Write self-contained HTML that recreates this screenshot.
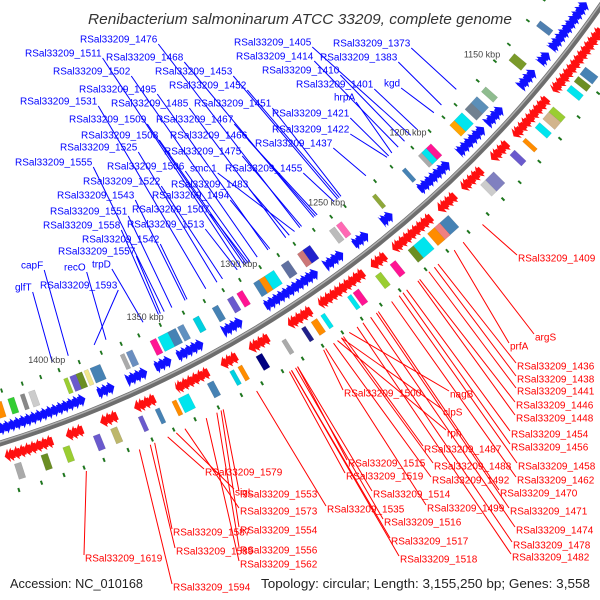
<!DOCTYPE html>
<html><head><meta charset="utf-8"><style>
html,body{margin:0;padding:0;background:#fff;}
svg{display:block;font-family:"Liberation Sans",sans-serif;}
</style></head><body>
<svg id="map" width="600" height="600" viewBox="0 0 600 600" xmlns="http://www.w3.org/2000/svg">
<rect width="600" height="600" fill="#fff"/>
<g id="labels-layer"></g>
<g id="ring-layer"></g>
<text x="88" y="24" font-size="15" font-style="italic" fill="#333" textLength="424" lengthAdjust="spacingAndGlyphs">Renibacterium salmoninarum ATCC 33209, complete genome</text>
<text x="10" y="588" font-size="13" fill="#222" textLength="133" lengthAdjust="spacingAndGlyphs">Accession: NC_010168</text>
<text x="261" y="588" font-size="13" fill="#222" textLength="329" lengthAdjust="spacingAndGlyphs">Topology: circular; Length: 3,155,250 bp; Genes: 3,558</text>
</svg>
<script>
// ---- data (kbp) ----
const tickKbp = [1150,1200,1250,1300,1350,1400];
const blueClusters = [[1102,1128],[1130,1136],[1140,1150],[1162,1172],[1174,1190],[1196,1214],[1230,1236],[1244,1252],[1258,1268],[1272,1300],[1312,1322],[1332,1345],[1348,1356],[1360,1370],[1376,1384],[1390,1432]];
const redClusters = [[1108,1142],[1146,1168],[1172,1182],[1188,1200],[1204,1214],[1218,1240],[1244,1252],[1256,1280],[1284,1296],[1306,1316],[1322,1330],[1336,1352],[1362,1372],[1380,1388],[1396,1404],[1410,1432]];
const outerBoxKbp = [1121,1140,1160,1166,1170,1176,1181,1196,1199,1202,1212,1230,1250,1254,1268,1272,1280,1288,1293,1296,1305,1310,1318,1328,1336,1340,1344,1350,1362,1366,1378,1384,1387,1390,1394,1410,1415,1420,1426];
const outerBoxLen = [3,4,3,4,4,5,3,4,3,2,2,2,3,3,4,3,4,5,3,3,3,3,3,3,3,4,5,3,3,2,5,2,3,3,2,3,2,3,3];
const outerBoxColor = ['#4f7fb0','#7a9a2a','#8fbc8f','#5b8fb9','#708090','#00e5ee','#ffa500','#ff1493','#00e5ee','#aaaaaa','#4682b4','#8fa83a','#ff69b4','#bbbbbb','#2020cc','#cc7777','#6070a0','#00e5ee','#ff8c00','#4682b4','#ff1493','#6a5acd','#4682b4','#00d0e0','#6090c0','#4682b4','#00e5ee','#ff1493','#6a8ec0','#aaaaaa','#4682b4','#f0e68c','#6b8e23','#6a5acd','#9acd32','#cccccc','#888888','#32cd32','#ff8c00'];
const innerBoxKbp = [1125,1130,1135,1147,1150,1156,1165,1172,1185,1190,1212,1217,1220,1226,1232,1242,1250,1262,1266,1280,1284,1290,1300,1312,1322,1326,1336,1348,1354,1362,1370,1382,1390,1404,1414,1426];
const innerBoxLen = [4,3,3,3,4,3,2,3,5,3,6,3,4,6,3,3,3,3,2,2,3,2,2,3,2,2,3,5,2,2,2,3,3,3,3,3];
const innerBoxColor = ['#4682b4','#6b8e23','#00e5ee','#9acd32','#d2b48c','#00e5ee','#ff8c00','#6a5acd','#8080c0','#cccccc','#4682b4','#f08080','#ff8c00','#00e5ee','#6b8e23','#ff1493','#9acd32','#ff1493','#00e5ee','#00e5ee','#ff8c00','#20208a','#aaaaaa','#000080','#ff8c00','#00d0e0','#4682b4','#00e5ee','#ff8c00','#4682b4','#6a5acd','#bdb76b','#6a5acd','#9acd32','#6b8e23','#aaaaaa'];
const outerDots = [1112,1124,1138,1148,1160,1175,1183,1192,1203,1216,1226,1244,1252,1262,1273,1282,1292,1303,1312,1322,1333,1345,1356,1365,1375,1386,1396,1405,1414,1424];
const innerDots = [1118,1130,1143,1155,1168,1180,1190,1199,1210,1222,1234,1248,1258,1268,1278,1288,1298,1308,1318,1328,1339,1350,1360,1370,1381,1392,1401,1410,1420,1430];
const blueNames = ['RSal33209_1476','RSal33209_1511','RSal33209_1468','RSal33209_1502','RSal33209_1453','RSal33209_1495','RSal33209_1452','RSal33209_1531','RSal33209_1485','RSal33209_1451','RSal33209_1509','RSal33209_1467','RSal33209_1508','RSal33209_1466','RSal33209_1525','RSal33209_1475','RSal33209_1555','RSal33209_1506','smc.1','RSal33209_1455','RSal33209_1522','RSal33209_1483','RSal33209_1543','RSal33209_1494','RSal33209_1551','RSal33209_1507','RSal33209_1558','RSal33209_1513','RSal33209_1542','RSal33209_1557','capF','recO','trpD','glfT','RSal33209_1593','RSal33209_1405','RSal33209_1373','RSal33209_1414','RSal33209_1383','RSal33209_1410','RSal33209_1401','kgd','hrpA','RSal33209_1421','RSal33209_1422','RSal33209_1437'];
const blueKbp = [1267,1300,1259,1291,1245,1285,1244,1319,1275,1243,1298,1258,1297,1257,1313,1266,1341,1295,1270,1247,1310,1273,1330,1284,1337,1296,1344,1302,1329,1343,1390,1371,1352,1398,1377,1200,1170,1208,1180,1204,1196,1185,1212,1214,1215,1228];
const blueX = [80,25,106,53,155,79,169,20,111,194,69,156,81,170,60,164,15,107,190,225,83,171,57,152,50,132,43,127,82,58,21,64,92,15,40,234,333,236,320,262,296,384,334,272,272,255];
const blueY = [39,53,57,71,71,89,85,101,103,103,119,119,135,135,147,151,162,166,168,168,181,184,195,195,211,209,225,224,239,251,265,267,264,287,285,42,43,56,57,70,84,83,97,113,129,143];
const redNames = ['RSal33209_1409','argS','prfA','RSal33209_1436','RSal33209_1438','RSal33209_1441','RSal33209_1446','RSal33209_1448','RSal33209_1454','RSal33209_1456','RSal33209_1458','RSal33209_1462','RSal33209_1470','RSal33209_1471','RSal33209_1474','RSal33209_1478','RSal33209_1482','RSal33209_1500','nagB','clpS','rph','RSal33209_1487','RSal33209_1515','RSal33209_1488','RSal33209_1519','RSal33209_1492','RSal33209_1514','RSal33209_1499','RSal33209_1553','RSal33209_1535','RSal33209_1516','RSal33209_1573','RSal33209_1554','RSal33209_1517','RSal33209_1556','RSal33209_1518','RSal33209_1562','RSal33209_1579','sigL','RSal33209_1587','RSal33209_1589','RSal33209_1619','RSal33209_1594'];
const redKbp = [1204,1215,1220,1229,1231,1234,1239,1240,1246,1248,1250,1254,1261,1262,1265,1269,1272,1289,1276,1280,1282,1279,1302,1280,1306,1284,1302,1288,1338,1322,1303,1356,1339,1305,1341,1305,1346,1364,1360,1370,1372,1401,1377];
const redX = [518,535,510,517,517,517,516,516,511,511,518,517,500,510,516,513,512,344,450,443,447,424,348,434,346,432,373,427,240,327,384,240,240,391,240,400,240,205,235,173,176,85,173];
const redY = [258,337,346,366,379,391,405,418,434,447,466,480,493,511,530,545,557,393,394,412,433,449,463,466,476,480,494,508,494,509,522,511,530,541,550,559,564,472,492,532,551,558,587];

// ---- geometry ----
const NS='http://www.w3.org/2000/svg';
const CX=-336, CY=-649, R=1143;
function ang(k){return (40.7+(k-1150)*360/3155.25)*Math.PI/180;}
function P(r,k){const a=ang(k);return [CX+r*Math.cos(a),CY+r*Math.sin(a)];}
function pts(arr){return arr.map(p=>p[0].toFixed(1)+','+p[1].toFixed(1)).join(' ');}
const ring=document.getElementById('ring-layer');
const lab=document.getElementById('labels-layer');
function mk(tag,parent){const e=document.createElementNS(NS,tag);parent.appendChild(e);return e;}

blueNames.forEach((n,i)=>{
  const t=mk('text',lab);
  
  
  t.setAttribute('x',blueX[i]);t.setAttribute('y',blueY[i]+3.5);
  t.setAttribute('font-size','10');t.setAttribute('fill','#0000ff');
  t.textContent=n;
  const w=t.getComputedTextLength();
  const e=P(R-60,blueKbp[i]);
  const l=mk('line',lab);
  
  
  l.setAttribute('x1',blueX[i]+w+1);l.setAttribute('y1',blueY[i]+5);
  l.setAttribute('x2',e[0]);l.setAttribute('y2',e[1]);
  l.setAttribute('stroke','#0000ff');l.setAttribute('stroke-width','1');
});
redNames.forEach((n,i)=>{
  const t=mk('text',lab);
  
  
  t.setAttribute('x',redX[i]);t.setAttribute('y',redY[i]+3.5);
  t.setAttribute('font-size','10');t.setAttribute('fill','#ff0000');
  t.textContent=n;
  const s=P(R+54,redKbp[i]);
  const l=mk('line',lab);
  
  
  l.setAttribute('x1',s[0]);l.setAttribute('y1',s[1]);
  l.setAttribute('x2',redX[i]-1);l.setAttribute('y2',redY[i]-3);
  l.setAttribute('stroke','#ff0000');l.setAttribute('stroke-width','1');
});

const bb=mk('circle',ring);


bb.setAttribute('cx',CX);bb.setAttribute('cy',CY);bb.setAttribute('r',R);
bb.setAttribute('fill','none');bb.setAttribute('stroke','#6e6e6e');bb.setAttribute('stroke-width','6');
const bh=mk('circle',ring);


bh.setAttribute('cx',CX);bh.setAttribute('cy',CY);bh.setAttribute('r',R-1.5);
bh.setAttribute('fill','none');bh.setAttribute('stroke','#b0b0b0');bh.setAttribute('stroke-width','1.5');

function arrow(a,b,rc,h,dir,color,name){
  const hl=Math.min(2.4,b-a);
  let p;
  if(dir<0){p=[P(rc,a),P(rc-h/2,a+hl),P(rc-h*0.3,a+hl),P(rc-h*0.3,b),P(rc+h*0.3,b),P(rc+h*0.3,a+hl),P(rc+h/2,a+hl)];}
  else{p=[P(rc,b),P(rc-h/2,b-hl),P(rc-h*0.3,b-hl),P(rc-h*0.3,a),P(rc+h*0.3,a),P(rc+h*0.3,b-hl),P(rc+h/2,b-hl)];}
  const g=mk('polygon',ring);
  
  
  g.setAttribute('points',pts(p));g.setAttribute('fill',color);
}
blueClusters.forEach(c=>{for(let k=c[0];k<c[1]-0.5;k+=2.5){arrow(k,Math.min(k+3.4,c[1]),R-14,14,-1,'#1010ff','forward-gene-arrow');}});
redClusters.forEach(c=>{for(let k=c[0];k<c[1]-0.5;k+=2.5){arrow(k,Math.min(k+3.4,c[1]),R+14,14,1,'#ff1010','reverse-gene-arrow');}});

function box(k,len,rc,h,color,name){
  const g=mk('polygon',ring);
  
  
  g.setAttribute('points',pts([P(rc-h/2,k),P(rc-h/2,k+len),P(rc+h/2,k+len),P(rc+h/2,k)]));
  g.setAttribute('fill',color);g.setAttribute('stroke','rgba(0,0,0,0.15)');g.setAttribute('stroke-width','0.5');
}
outerBoxKbp.forEach((k,i)=>box(k,outerBoxLen[i],R-32,16,outerBoxColor[i],'outer-cog-box'));
innerBoxKbp.forEach((k,i)=>box(k,innerBoxLen[i],R+32,16,innerBoxColor[i],'inner-cog-box'));

outerDots.forEach(k=>box(k,0.8,R-50,4,'#1a7a1a','outer-dot'));
innerDots.forEach(k=>box(k,0.8,R+50,4,'#1a7a1a','inner-dot'));

tickKbp.forEach(k=>{
  const p=P(R-64,k);
  const t=mk('text',ring);
  
  
  t.setAttribute('x',p[0]);t.setAttribute('y',p[1]+3);
  t.setAttribute('text-anchor','middle');t.setAttribute('font-size','9');t.setAttribute('fill','#444');
  t.textContent=k+' kbp';
});
</script>
</body></html>
